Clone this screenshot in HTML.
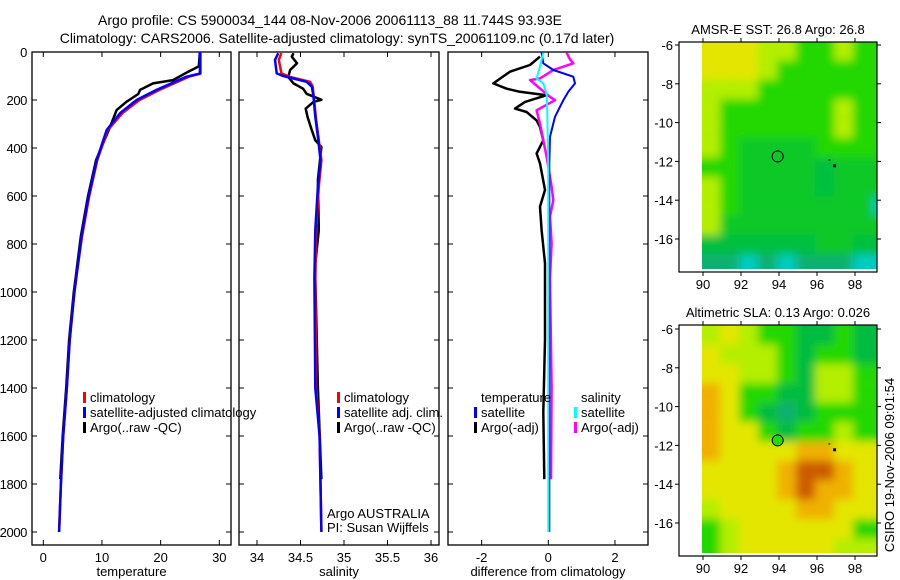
<!DOCTYPE html>
<html><head><meta charset="utf-8"><style>
body{margin:0;background:#fff;}
svg{display:block;font-family:"Liberation Sans",sans-serif;}
</style></head><body>
<svg id="c" width="900" height="580" viewBox="0 0 900 580">
<defs>
<filter id="bl" x="0" y="0" width="1" height="1"><feGaussianBlur stdDeviation="4.5"/></filter>
<clipPath id="cm1"><rect x="702" y="42" width="175" height="227"/></clipPath>
<clipPath id="cm2"><rect x="702" y="325" width="175" height="228"/></clipPath>
</defs>
<text x="330" y="25" font-size="14" text-anchor="middle">Argo profile: CS 5900034_144 08-Nov-2006 20061113_88 11.744S 93.93E</text>
<text x="337" y="43" font-size="14" text-anchor="middle">Climatology: CARS2006. Satellite-adjusted climatology: synTS_20061109.nc (0.17d later)</text>
<g id="g"></g>
</svg>
<script>
// ---- data (depth m, value) ----
const tDepth=[0,90,103,158,200,254,325,450,603,769,942,1000,1200,1400,1600,1800,2000];
const tSat=[26.7,26.7,24.4,19.3,15.9,13.1,10.8,9.1,7.7,6.5,5.6,5.3,4.5,4.0,3.4,3.0,2.7];
const tClim=[26.8,26.8,24.8,19.8,16.4,13.5,11.0,9.2,7.8,6.6,5.6,5.3,4.5,4.0,3.4,3.0,2.7];
const aDepth=[0,60,82,117,131,158,175,207,242,311,450,603,769,942,1000,1200,1400,1600,1780];
const tArgo=[26.7,26.5,24.7,22.1,18.7,16.5,16.2,14.2,12.5,11.4,9.0,7.6,6.4,5.5,5.2,4.4,3.9,3.3,2.9];
const sDepth=[5,33,89,100,124,144,186,270,353,450,561,742,942,1400,1600,2000];
const sSat=[34.245,34.207,34.226,34.30,34.57,34.63,34.65,34.67,34.70,34.73,34.70,34.67,34.66,34.67,34.72,34.74];
const scDepth=[5,33,89,104,124,144,285,450,561,742,942,1400,1600,2000];
const sClim=[34.28,34.25,34.28,34.38,34.61,34.64,34.68,34.74,34.71,34.68,34.67,34.68,34.72,34.74];
const saDepth=[5,19,47,75,104,131,153,174,199,208,236,270,326,368,396,533,742,880,942,1400,1780];
const sArgo=[34.42,34.40,34.46,34.38,34.36,34.42,34.53,34.57,34.74,34.65,34.56,34.58,34.63,34.67,34.74,34.70,34.71,34.67,34.67,34.70,34.74];
const dtsDepth=[3,47,75,103,131,166,201,270,353,464,1000,2000];
const dTSat=[-0.2,-0.15,0.15,0.75,0.8,0.6,0.45,0.2,0.05,0.03,0.03,0.03];
const dtaDepth=[19,54,68,82,131,153,166,180,208,236,250,285,312,368,423,464,575,644,742,880,1200,1500,1780];
const dTArgo=[-0.25,-0.55,-0.85,-1.15,-1.65,-1.25,-0.85,-0.05,-0.7,-1.0,-0.65,-0.35,-0.25,-0.15,-0.35,-0.25,-0.1,-0.25,-0.2,-0.1,-0.1,-0.15,-0.12];
const dssDepth=[3,61,110,131,174,257,500,2000];
const dSSat=[-0.15,-0.25,-0.35,-0.15,-0.05,-0.03,0.0,0.0];
const dsaDepth=[3,31,47,75,110,117,187,201,243,299,368,436,561,617,686,797,942,1400,1780];
const dSArgo=[0.55,0.65,0.75,0.15,-0.25,-0.55,0.05,0.2,-0.35,-0.25,-0.15,-0.05,0.1,0.15,0.05,0.1,0.05,0.1,0.08];
const yTicks=[0,200,400,600,800,1000,1200,1400,1600,1800,2000];
const tTicks=[0,10,20,30];
const sTicks=[34,34.5,35,35.5,36];
const dTicks=[-2,0,2];
const lonTicks=[90,92,94,96,98];
const latTicks=[-6,-8,-10,-12,-14,-16];
// coarse map colour grids (rows = 1 deg lat from -5.8 southward, cols = 1 deg lon from 90)
const sstGrid=["YYYLLGGLG","YYYLGGGGG","LLLGGGGGG","LGGGGGGLG","LGGGGGGLG","LGggggGGG","GGggggmgg","LGggggmgg","LGgggggg","Lgggggggg","mmmmmmggm","ttctctttc"];
const slaGrid=["LYLGGddGd","YLLLGdGGd","YYLLGdLLG","OYGGddLLG","OYGdtdGGG","OYYGdGGLG","OYYYYOOYY","YYYYORROY","YYYYOROOY","LYYYYOOYY","GLYYYYYYG","GLYYYYYLL"];
const colors={Y:"#e4e600",L:"#b4ee00",G:"#22d800",g:"#10c828",m:"#00c040",d:"#00bc40",t:"#10b070",c:"#00ccc0",O:"#f0b000",R:"#cc5a00"};

const NS="http://www.w3.org/2000/svg";
const G=document.getElementById('g');
function mk(tag,at,parent){const e=document.createElementNS(NS,tag);for(const k in at)e.setAttribute(k,at[k]);(parent||G).appendChild(e);return e;}
const yD=d=>52+d*0.24;
const xT=v=>43.3+v*5.867, xS=v=>257+(v-34)*87, xD=v=>548.3+v*33.33;
const lonX=l=>703+(l-90)*19;
const latY1=l=>45+(-6-l)*19.4, latY2=l=>329+(-6-l)*19.4;

function panel(x0,x1,name,xf,ticks,labels,yLab,xlabel){
  const r=mk('rect',{x:x0,y:52,width:x1-x0,height:493,fill:'none',stroke:'#000','stroke-width':1.3});
  
  
  ticks.forEach((t,i)=>{const x=xf(t);
    mk('line',{x1:x,x2:x,y1:545,y2:540,stroke:'#000'});mk('line',{x1:x,x2:x,y1:52,y2:57,stroke:'#000'});
    const tx=mk('text',{x:x,y:562,'font-size':13,'text-anchor':'middle'});tx.textContent=labels[i];
    
    });
  yTicks.forEach(t=>{const y=yD(t);
    mk('line',{x1:x0,x2:x0+5,y1:y,y2:y,stroke:'#000'});mk('line',{x1:x1,x2:x1-5,y1:y,y2:y,stroke:'#000'});
    if(yLab){const tx=mk('text',{x:27,y:y+5,'font-size':13,'text-anchor':'end','letter-spacing':'-0.4'});tx.textContent=t;
      
      }});
  const xl=mk('text',{x:(x0+x1)/2,y:576,'font-size':13,'text-anchor':'middle'});xl.textContent=xlabel;
  
  
}
function line(ds,vs,xf,col,name,w,dash){
  const pts=ds.map((d,i)=>xf(vs[i]).toFixed(1)+','+yD(d).toFixed(1)).join(' ');
  const p=mk('polyline',{points:pts,fill:'none',stroke:col,'stroke-width':w||2.5,'stroke-linejoin':'round'});
  if(dash)p.setAttribute('stroke-dasharray',dash);
  
  
}
function leg(x,y,col,txt,name){
  if(col){const b=mk('rect',{x:x-7,y:y-10,width:3,height:11,fill:col});}
  const t=mk('text',{x:x,y:y,'font-size':13});t.textContent=txt;
  
  
}
panel(32,231,'temperature-panel',xT,tTicks,tTicks.map(String),true,'temperature');
panel(239,439,'salinity-panel',xS,sTicks,sTicks.map(String),false,'salinity');
panel(448,648,'difference-panel',xD,dTicks,dTicks.map(String),false,'difference from climatology');
line(aDepth,tArgo,xT,'#000','temperature-argo-line');
line(tDepth,tClim,xT,'#f00','temperature-climatology-line');
line(tDepth,tSat,xT,'#00f','temperature-satellite-line');
line(saDepth,sArgo,xS,'#000','salinity-argo-line');
line(scDepth,sClim,xS,'#f00','salinity-climatology-line');
line(sDepth,sSat,xS,'#00f','salinity-satellite-line');
line(dtaDepth,dTArgo,xD,'#000','temp-diff-argo-line');
line(dsaDepth,dSArgo,xD,'#f0f','sal-diff-argo-line',2.5);
line(dtsDepth,dTSat,xD,'#00f','temp-diff-satellite-line',2);
line(dssDepth,dSSat,xD,'#0ff','sal-diff-satellite-line',2);
leg(90,402,'#f00','climatology','legend-climatology');
leg(90,417,'#00f','satellite-adjusted climatology','legend-satellite-adjusted');
leg(90,432,'#000','Argo(..raw -QC)','legend-argo');
leg(344,402,'#f00','climatology','legend2-climatology');
leg(344,417,'#00f','satellite adj. clim.','legend2-satellite');
leg(344,432,'#000','Argo(..raw -QC)','legend2-argo');
leg(327,518,null,'Argo AUSTRALIA','argo-australia-label');
leg(327,532,null,'PI: Susan Wijffels','pi-label');
leg(481,402,null,'temperature','legend3-temperature-header');
leg(481,417,'#00f','satellite','legend3-temp-satellite');
leg(481,432,'#000','Argo(-adj)','legend3-temp-argo');
leg(581,402,null,'salinity','legend3-salinity-header');
leg(581,417,'#0ff','satellite','legend3-sal-satellite');
leg(581,432,'#f0f','Argo(-adj)','legend3-sal-argo');

function map(grid,top,bot,latY,clip,name,title,fillCircle){
  const g=mk('g',{'clip-path':'url(#'+clip+')'});
  
  
  const gi=mk('g',{filter:'url(#bl)'},g);
  mk('rect',{x:690,y:top-20,width:200,height:bot-top+40,fill:colors[grid[grid.length-1][4]]},gi);
  grid.forEach((row,r)=>{for(let c=0;c<row.length;c++){
    const x=lonX(89.9+c), y=latY(-5.8-r);
    mk('rect',{x:x-(c==0?20:0),y:y-(r==0?20:0),width:19+(c==0?20:0)+(c==row.length-1?20:0),height:19.4+(r==0?20:0)+(r==grid.length-1?20:0),fill:colors[row[c]]},gi);}});
  const f=mk('rect',{x:679,y:top,width:198,height:bot-top+3,fill:'none',stroke:'#000','stroke-width':1.2});
  
  
  lonTicks.forEach(l=>{const x=lonX(l);
    mk('line',{x1:x,x2:x,y1:top,y2:top-4,stroke:'#000'});mk('line',{x1:x,x2:x,y1:bot+3,y2:bot+7,stroke:'#000'});
    const t=mk('text',{x:x,y:bot+20,'font-size':13,'text-anchor':'middle'});t.textContent=l;
    
    });
  latTicks.forEach(l=>{const y=latY(l);
    mk('line',{x1:679,x2:675,y1:y,y2:y,stroke:'#000'});mk('line',{x1:877,x2:881,y1:y,y2:y,stroke:'#000'});
    const t=mk('text',{x:673,y:y+5,'font-size':13,'text-anchor':'end'});t.textContent=l;
    
    });
  const tt=mk('text',{x:778,y:top-8,'font-size':13,'text-anchor':'middle'});tt.textContent=title;
  
  
  const cc=mk('circle',{cx:lonX(93.93),cy:latY(-11.744),r:5.5,fill:fillCircle?'#22dd00':'none',stroke:'#000','stroke-width':1});
  
  
  mk('rect',{x:lonX(96.6),y:latY(-11.9),width:2,height:1,fill:'#000'});
  mk('rect',{x:lonX(96.9)-1,y:latY(-12.2)-1,width:3,height:3,fill:'#000'});
}
map(sstGrid,42,269,latY1,'cm1','sst-map','AMSR-E SST: 26.8 Argo: 26.8',false);
map(slaGrid,325,553,latY2,'cm2','sla-map','Altimetric SLA: 0.13 Argo: 0.026',true);
const st=mk('text',{x:0,y:0,'font-size':13,'text-anchor':'middle',transform:'translate(894,465) rotate(-90)'});
st.textContent='CSIRO 19-Nov-2006 09:01:54';


</script>
</body></html>
